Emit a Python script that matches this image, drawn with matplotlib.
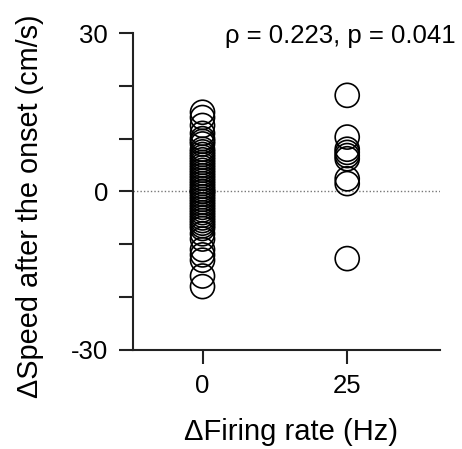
import matplotlib
matplotlib.use("Agg")
import matplotlib.pyplot as plt

plt.rcParams['font.family'] = ['Liberation Sans', 'DejaVu Sans']

group0_x = 0
group0_y = [15, 14, 12.5, 11, 10, 9.5, 9, 8, 7.5, 7, 6.5, 6, 5.5, 5, 4.5, 4,
            3.5, 3, 2.5, 2, 1.5, 1, 0.5, 0, 0, -0.5, -1, -1.5, -2, -2.5, -3,
            -3.5, -4, -4.5, -5, -5.5, -6, -6.5, -7, -8, -9, -11, -12, -13,
            -16, -18]
group25_x = 25
group25_y = [18.2, 10.3, 8.0, 7.4, 6.8, 6.2, 2.4, 1.5, -12.7]

xticks = [0, 25]
yticks = [-30, 0, 30]
yminor = [-20, -10, 10, 20]
annotation = "ρ = 0.223, p = 0.041"

fig = plt.figure(figsize=(4.62, 4.49), dpi=100)
ax = fig.add_axes([0.288, 0.2205, 0.664, 0.706])

ax.axhline(0, color='#777777', linestyle=(0, (1, 1.5)), linewidth=1, zorder=1)
ax.scatter([group0_x] * len(group0_y), group0_y, s=300, facecolors='none',
           edgecolors='black', linewidths=1.2, zorder=3)
ax.scatter([group25_x] * len(group25_y), group25_y, s=300, facecolors='none',
           edgecolors='black', linewidths=1.2, zorder=3)

ax.set_xlim(-12, 41)
ax.set_ylim(-30, 30)
ax.set_xticks(xticks)
ax.set_xticklabels([str(t) for t in xticks])
ax.set_yticks(yticks)
ax.set_yticklabels([str(t) for t in yticks])
ax.set_yticks(yminor, minor=True)

for s in ['top', 'right']:
    ax.spines[s].set_visible(False)
for s in ['left', 'bottom']:
    ax.spines[s].set_linewidth(1.5)
    ax.spines[s].set_color('#222222')

ax.tick_params(axis='both', which='both', direction='out', length=10,
               width=1.5, color='#222222', labelsize=18.5)
ax.tick_params(axis='x', pad=7)
ax.tick_params(axis='y', pad=8)

ax.set_xlabel("ΔFiring rate (Hz)", fontsize=21)
ax.xaxis.set_label_coords(0.516, -0.259)
ax.xaxis.label.set_va('center')
ax.set_ylabel("ΔSpeed after the onset (cm/s)", fontsize=20.8)
ax.yaxis.set_label_coords(-0.335, 0.454)
ax.yaxis.label.set_va('center')

ax.text(0.677, 0.99, annotation, transform=ax.transAxes, ha='center',
        va='center', fontsize=18.5)

fig.savefig("out.png", dpi=100)
